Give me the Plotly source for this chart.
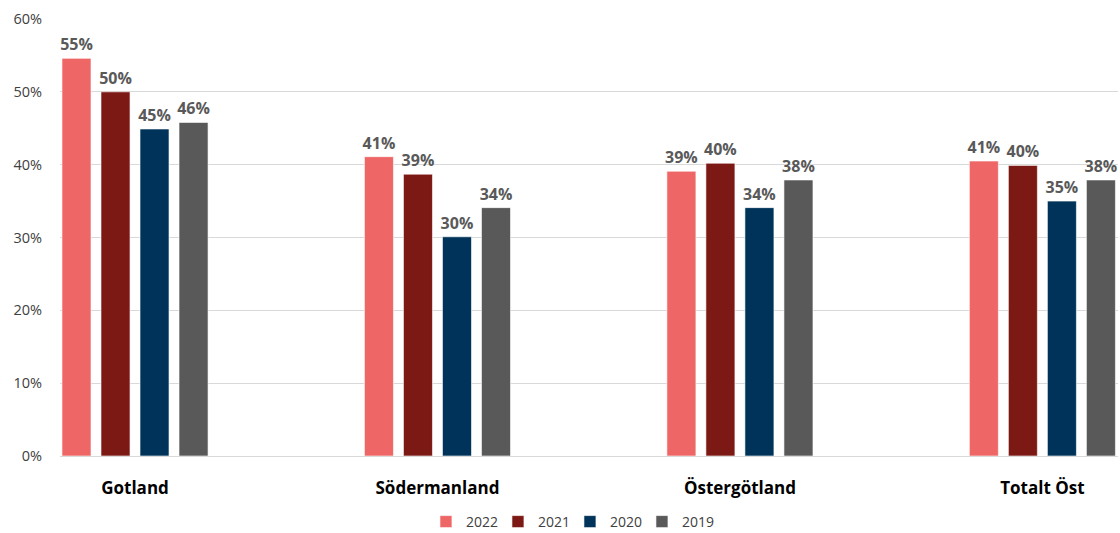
import plotly.graph_objects as go

regions = ["Gotland", "Södermanland", "Östergötland", "Totalt Öst"]
years = ["2022", "2021", "2020", "2019"]
share_2022 = [0.546, 0.411, 0.391, 0.405]
share_2021 = [0.500, 0.387, 0.402, 0.399]
share_2020 = [0.449, 0.301, 0.341, 0.350]
share_2019 = [0.458, 0.341, 0.379, 0.379]
y_ticks = [0.0, 0.1, 0.2, 0.3, 0.4, 0.5, 0.6]

series = [share_2022, share_2021, share_2020, share_2019]
colors = ["#EE6766", "#7C1914", "#003359", "#595959"]

font_family = "Open Sans, DejaVu Sans, sans-serif"

fig = go.Figure()
for year, values, color in zip(years, series, colors):
    fig.add_trace(go.Bar(
        name=year,
        x=list(range(len(regions))),
        y=values,
        marker=dict(color=color, line=dict(color="rgba(255,255,255,0.6)", width=1)),
        text=values,
        texttemplate="<b>%{y:.0%}</b>",
        textposition="outside",
        constraintext="none",
        textfont=dict(color="#595959", size=16, family=font_family),
        cliponaxis=False,
    ))

fig.update_layout(
    width=1120,
    height=533,
    barmode="group",
    bargap=0.484,
    bargroupgap=0.256,
    plot_bgcolor="white",
    paper_bgcolor="white",
    margin=dict(l=60, r=2, t=19, b=77, autoexpand=False),
    font=dict(family=font_family, color="#404040"),
    legend=dict(
        orientation="h",
        x=0.482,
        xanchor="center",
        y=-0.151,
        yanchor="middle",
        font=dict(size=14, color="#404040"),
        entrywidth=27,
        entrywidthmode="pixels",
        traceorder="normal",
    ),
    showlegend=True,
)

fig.update_xaxes(
    tickmode="array",
    tickvals=list(range(len(regions))),
    ticktext=[f"<b>{r}</b>" for r in regions],
    tickfont=dict(size=17, color="#000000"),
    range=[-0.248, 3.25],
    showgrid=False,
    showline=True,
    linecolor="#D9D9D9",
    linewidth=1,
    ticks="outside",
    ticklen=17,
    tickcolor="rgba(0,0,0,0)",
    zeroline=False,
    automargin=False,
)

fig.update_yaxes(
    range=[0, 0.6],
    tickvals=y_ticks,
    tickformat=".0%",
    tickfont=dict(size=14.5, color="#404040"),
    showgrid=True,
    gridcolor="#D9D9D9",
    gridwidth=1,
    zeroline=False,
    showline=False,
    ticks="outside",
    ticklen=14,
    tickcolor="rgba(0,0,0,0)",
    automargin=False,
)

fig.write_html("out.html")
